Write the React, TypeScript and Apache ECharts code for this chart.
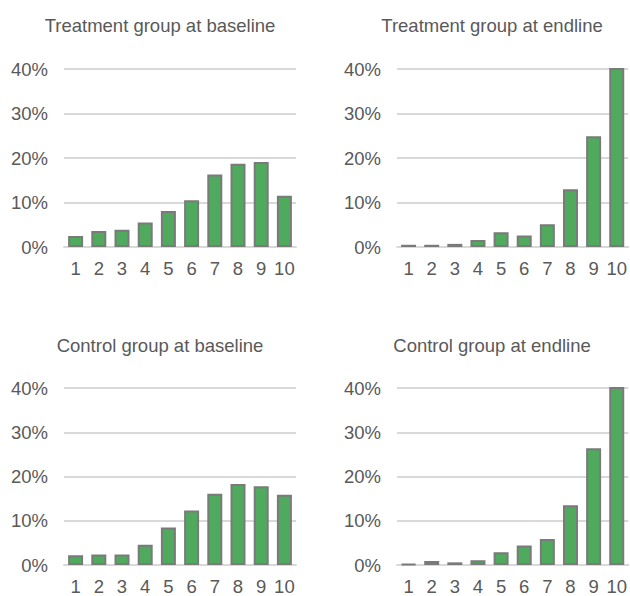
import React, { useEffect, useRef } from "react";
import * as echarts from "echarts";

const categories = ["1", "2", "3", "4", "5", "6", "7", "8", "9", "10"];
const panelTitles = [
  "Treatment group at baseline",
  "Treatment group at endline",
  "Control group at baseline",
  "Control group at endline",
];
const treatmentBaseline = [2.5, 3.6, 3.9, 5.5, 8.1, 10.5, 16.3, 18.7, 19.1, 11.5];
const treatmentEndline = [0.5, 0.5, 0.7, 1.6, 3.3, 2.6, 5.1, 13.0, 24.9, 46];
const controlBaseline = [2.2, 2.4, 2.4, 4.6, 8.5, 12.3, 16.1, 18.3, 17.8, 15.9];
const controlEndline = [0.2, 0.9, 0.6, 1.1, 2.9, 4.4, 5.9, 13.5, 26.4, 47];
const yTicks = [0, 10, 20, 30, 40];

const FONT = "'Liberation Sans', Arial, sans-serif";
const TEXT = "#595959";
const GRID = "#d9d9d9";

export default function App() {
  const ref = useRef<HTMLDivElement>(null);
  useEffect(() => {
    if (!ref.current) return;
    const chart = echarts.init(ref.current, null, { renderer: "svg" });
    const allData = [treatmentBaseline, treatmentEndline, controlBaseline, controlEndline];
    const grids = [
      { left: 64, top: 69, width: 232, height: 178 },
      { left: 397, top: 69, width: 232, height: 178 },
      { left: 64, top: 388, width: 232, height: 179 },
      { left: 397, top: 388, width: 232, height: 179 },
    ];
    const titleCenters = [
      [160, 25],
      [492, 25],
      [160, 345],
      [492, 345],
    ];
    chart.setOption({
      animation: false,
      backgroundColor: "#ffffff",
      textStyle: { fontFamily: FONT },
      graphic: panelTitles.map((t, i) => ({
        type: "text",
        x: titleCenters[i][0],
        y: titleCenters[i][1],
        style: {
          text: t,
          fill: TEXT,
          font: `18.5px ${FONT}`,
          textAlign: "center",
          textVerticalAlign: "middle",
        },
      })),
      grid: grids.map((g) => ({ ...g, containLabel: false })),
      xAxis: grids.map((_, i) => ({
        type: "category",
        gridIndex: i,
        data: categories,
        axisTick: { show: false },
        axisLine: { show: true, lineStyle: { color: GRID, width: 2 } },
        axisLabel: {
          color: TEXT,
          fontSize: 18.5,
          fontFamily: FONT,
          margin: 12,
          interval: 0,
        },
      })),
      yAxis: grids.map((_, i) => ({
        type: "value",
        gridIndex: i,
        min: yTicks[0],
        max: yTicks[yTicks.length - 1],
        interval: 10,
        axisLine: { show: false },
        axisTick: { show: false },
        splitLine: { show: true, lineStyle: { color: GRID, width: 2 } },
        axisLabel: {
          color: TEXT,
          fontSize: 18.5,
          fontFamily: FONT,
          margin: 16,
          formatter: (v: number) => `${v}%`,
        },
      })),
      series: allData.map((d, i) => ({
        type: "bar",
        xAxisIndex: i,
        yAxisIndex: i,
        data: d,
        barWidth: 15,
        clip: true,
        itemStyle: {
          color: "#4faa5e",
          borderColor: "#7a7a7a",
          borderWidth: 2,
        },
      })),
    });
    return () => chart.dispose();
  }, []);
  return (
    <div
      ref={ref}
      style={{ position: "fixed", left: 0, top: 0, width: 630, height: 596 }}
    />
  );
}
